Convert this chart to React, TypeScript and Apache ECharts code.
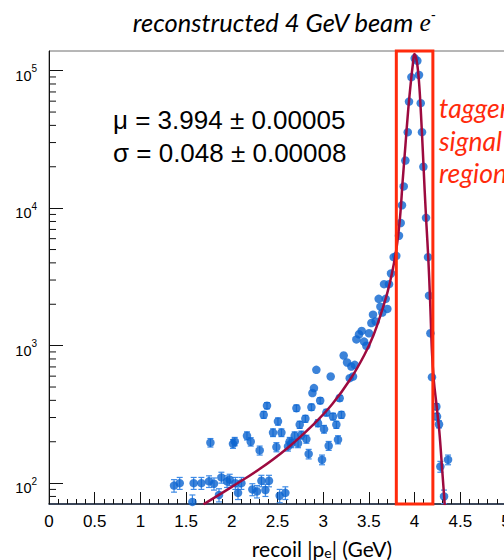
import React, { useEffect, useRef } from 'react';
import * as echarts from 'echarts';

// ---- axis ranges ----
const X_MIN = 0;
const X_MAX = 5;
const X_STEP = 0.5;
const Y_MIN = 70.5;
const Y_MAX = 139000;

// minor ticks of the log y axis
const yMinorTicks = [
  80, 90,
  200, 300, 400, 500, 600, 700, 800, 900,
  2000, 3000, 4000, 5000, 6000, 7000, 8000, 9000,
  20000, 30000, 40000, 50000, 60000, 70000, 80000, 90000,
];

// ---- histogram points: [recoil p (GeV), counts, error] ----
const points: [number, number, number][] = [
  [1.368, 96, 10], [1.43, 100, 10], [1.569, 73, 9], [1.583, 100, 10], [1.667, 100, 10],
  [1.751, 103, 10], [1.766, 197, 14], [1.805, 99, 10], [1.86, 82, 9], [1.886, 110, 10],
  [1.948, 103, 10], [1.977, 106, 10], [2.013, 193, 14], [2.032, 201, 14], [2.039, 100, 10],
  [2.068, 85, 9], [2.105, 100, 10], [2.166, 221, 15], [2.207, 200, 14], [2.225, 90, 9],
  [2.276, 87, 9], [2.305, 173, 13], [2.324, 104, 10], [2.349, 314, 18], [2.368, 89, 9],
  [2.385, 366, 19], [2.407, 104, 10], [2.451, 233, 15], [2.488, 183, 14], [2.505, 281, 17],
  [2.524, 81, 9], [2.543, 233, 15], [2.586, 85, 9], [2.615, 185, 14], [2.634, 201, 14],
  [2.652, 195, 14], [2.688, 221, 15], [2.707, 351, 19], [2.725, 195, 14], [2.743, 266, 16],
  [2.761, 224, 15], [2.805, 294, 17], [2.816, 209, 14], [2.841, 163, 13], [2.871, 357, 19],
  [2.882, 452, 0], [2.899, 491, 0], [2.925, 667, 0], [2.943, 273, 16], [2.967, 398, 20],
  [2.987, 148, 12], [3.009, 247, 16], [3.035, 326, 18], [3.06, 187, 14], [3.082, 596, 0],
  [3.107, 305, 17], [3.144, 266, 16], [3.162, 207, 14], [3.18, 415, 20], [3.199, 314, 18],
  [3.224, 847, 0], [3.261, 754, 0], [3.29, 580, 0], [3.308, 705, 0], [3.326, 596, 0],
  [3.345, 725, 0], [3.363, 1110, 0], [3.392, 1210, 0], [3.421, 1280, 0], [3.447, 1070, 0],
  [3.472, 998, 0], [3.501, 1230, 0], [3.527, 1460, 0], [3.545, 1680, 0], [3.574, 1500, 0],
  [3.607, 2190, 0], [3.626, 1920, 0], [3.647, 1740, 0], [3.666, 2800, 0], [3.684, 2190, 0],
  [3.702, 1850, 0], [3.72, 2800, 0], [3.742, 3350, 0], [3.771, 4400, 0], [3.8, 4500, 0],
  [3.829, 6300, 0], [3.848, 7800, 0], [3.862, 10500, 0], [3.881, 14400, 0], [3.899, 22200, 0],
  [3.925, 35700, 0], [3.939, 59600, 0], [3.965, 89800, 0], [4.001, 123000, 0], [4.03, 118000, 0],
  [4.048, 93000, 0], [4.067, 58000, 0], [4.081, 35700, 0], [4.096, 20000, 0], [4.125, 8500, 0],
  [4.147, 4400, 0], [4.158, 2310, 0], [4.173, 1230, 0], [4.19, 590, 0], [4.238, 360, 19],
  [4.245, 305, 17], [4.267, 268, 16], [4.282, 132, 12], [4.322, 80, 9], [4.366, 148, 12],
];

// ---- fit curve ----
const fitCurve: [number, number][] = [
  [1.69, 70], [2.0, 94], [2.3, 126], [2.6, 178], [2.9, 270], [3.1, 376], [3.3, 574],
  [3.45, 855], [3.55, 1190], [3.63, 1690], [3.7, 2400], [3.75, 3300], [3.8, 5000],
  [3.84, 8500], [3.87, 16000], [3.9, 28800], [3.93, 51800], [3.96, 84000], [3.98, 110000],
  [3.997, 132000], [4.01, 128000], [4.03, 110000], [4.05, 80000], [4.07, 48000],
  [4.09, 26000], [4.11, 13500], [4.13, 7500], [4.15, 4300], [4.17, 2100], [4.19, 900],
  [4.21, 560], [4.24, 370], [4.27, 240], [4.3, 130], [4.33, 69],
];

// tagger signal region [from, to] in GeV
const signalRegion: [number, number] = [3.8, 4.2];

const titleMain = 'reconstructed 4 GeV beam ';
const statsLines = ['μ = 3.994 ± 0.00005', 'σ = 0.048 ± 0.00008'];
const taggerLines = ['tagger', 'signal', 'region'];

const BLUE = '#0b64cf';
const ERR_BLUE = '#3f8be6';
const FIT = '#9d0a3f';
const RED = '#ff2a0c';

export default function App() {
  const ref = useRef<HTMLDivElement>(null);

  useEffect(() => {
    if (!ref.current) return;
    const chart = echarts.init(ref.current, undefined, { renderer: 'svg' });

    const option: any = {
      animation: false,
      grid: {
        left: 49, right: -2, top: 51, bottom: 56,
        show: true, borderColor: '#6e6e6e', borderWidth: 1,
        containLabel: false, outerBoundsMode: 'none',
      },
      xAxis: {
        type: 'value', min: X_MIN, max: X_MAX, interval: X_STEP,
        axisLine: { show: true, onZero: false, lineStyle: { color: '#14233d', width: 1.5 } },
        axisTick: { show: true, inside: true, length: 12, lineStyle: { color: '#111', width: 1 } },
        minorTick: { show: true, splitNumber: 5, length: 5, lineStyle: { color: '#111', width: 1 } },
        splitLine: { show: false },
        minorSplitLine: { show: false },
        axisLabel: {
          fontSize: 17, color: '#000', margin: 9, fontFamily: 'Liberation Sans',
          showMaxLabel: true, showMinLabel: true,
        },
      },
      yAxis: {
        type: 'log', logBase: 10, min: Y_MIN, max: Y_MAX,
        axisLine: { show: true, lineStyle: { color: '#111', width: 1 } },
        axisTick: { show: true, inside: true, length: 14, lineStyle: { color: '#111' } },
        splitLine: { show: false },
        axisLabel: {
          margin: 12,
          showMinLabel: false, showMaxLabel: false,
          formatter: (v: number) => {
            const l = Math.log10(v);
            const n = Math.round(l);
            if (Math.abs(l - n) > 1e-6) return '';
            return `{b|10}{s|${n}}`;
          },
          rich: {
            b: { fontSize: 14.5, lineHeight: 14, fontFamily: 'Liberation Sans', color: '#000', padding: [10, 0, 0, 0] },
            s: { fontSize: 10, lineHeight: 10, fontFamily: 'Liberation Sans', color: '#000', padding: [0, 0, 4, 0] },
          },
        },
      },
      series: [
        {
          // minor ticks of the y axis
          type: 'custom',
          data: yMinorTicks.map((v) => [X_MIN, v]),
          encode: { x: 0, y: 1 },
          silent: true,
          z: 5,
          renderItem: (_p: any, api: any) => {
            const c = api.coord([api.value(0), api.value(1)]);
            return {
              type: 'line',
              shape: { x1: c[0], y1: c[1], x2: c[0] + 7, y2: c[1] },
              style: { stroke: '#111', lineWidth: 1 },
            };
          },
        },
        {
          // error bars
          type: 'custom',
          data: points,
          encode: { x: 0, y: 1 },
          clip: true,
          silent: true,
          z: 2,
          renderItem: (_p: any, api: any) => {
            const x = api.value(0);
            const y = api.value(1);
            const e = api.value(2);
            if (!e) return { type: 'group', children: [] };
            const t = api.coord([x, y + e]);
            const b = api.coord([x, y - e]);
            const cw = 3;
            const st = { stroke: ERR_BLUE, lineWidth: 1.2 };
            return {
              type: 'group',
              children: [
                { type: 'line', shape: { x1: t[0], y1: t[1], x2: b[0], y2: b[1] }, style: st },
                { type: 'line', shape: { x1: t[0] - cw, y1: t[1], x2: t[0] + cw, y2: t[1] }, style: st },
                { type: 'line', shape: { x1: b[0] - cw, y1: b[1], x2: b[0] + cw, y2: b[1] }, style: st },
              ],
            };
          },
        },
        {
          type: 'scatter',
          data: points.map((p) => [p[0], p[1]]),
          symbol: 'circle',
          symbolSize: 8.5,
          itemStyle: { color: BLUE },
          silent: true,
          z: 3,
        },
        {
          type: 'line',
          data: fitCurve,
          smooth: 0.4,
          showSymbol: false,
          symbol: 'none',
          clip: true,
          lineStyle: { color: FIT, width: 2.5 },
          silent: true,
          z: 4,
        },
        {
          // tagger signal region box
          type: 'custom',
          data: [[signalRegion[0], signalRegion[1], Y_MAX]],
          encode: { x: [0, 1], y: 2 },
          silent: true,
          clip: false,
          z: 6,
          renderItem: (params: any, api: any) => {
            const a = api.coord([api.value(0), Y_MAX]);
            const b = api.coord([api.value(1), Y_MAX]);
            const cs = params.coordSys;
            return {
              type: 'rect',
              shape: { x: a[0], y: cs.y, width: b[0] - a[0], height: cs.height },
              style: { fill: 'none', stroke: RED, lineWidth: 3 },
            };
          },
        },
      ],
      graphic: [
        {
          type: 'text',
          x: 284, y: 22,
          style: {
            text: `{t|${titleMain}}{e|e}{m|-}`,
            align: 'center', verticalAlign: 'middle',
            rich: {
              t: { fontFamily: 'Lato', fontStyle: 'italic', fontSize: 25.5, fill: '#000', lineHeight: 28 },
              e: { fontFamily: 'Liberation Serif', fontStyle: 'italic', fontSize: 25.5, fill: '#000', lineHeight: 28 },
              m: { fontFamily: 'Liberation Sans', fontSize: 14, fill: '#000', lineHeight: 14, padding: [0, 0, 15, 0] },
            },
          },
        },
        {
          type: 'text',
          x: 113, y: 103.5,
          style: {
            text: statsLines.join('\n'),
            fontFamily: 'Liberation Sans', fontSize: 26, lineHeight: 33,
            fill: '#000', align: 'left', verticalAlign: 'top',
          },
        },
        {
          type: 'text',
          x: 439, y: 92,
          style: {
            text: taggerLines.join('\n'),
            fontFamily: 'Lato', fontStyle: 'italic', fontSize: 26.5, lineHeight: 32.5,
            fill: RED, align: 'left', verticalAlign: 'top',
          },
        },
        {
          type: 'text',
          x: 322, y: 548,
          style: {
            text: '{a|recoil |p}{e|e}{a|| (GeV)}',
            align: 'center', verticalAlign: 'middle',
            rich: {
              a: { fontFamily: 'Lato', fontSize: 21, fill: '#000', lineHeight: 23 },
              e: { fontFamily: 'Lato', fontSize: 14, fill: '#000', lineHeight: 14, padding: [8, 0, 0, 0] },
            },
          },
        },
      ],
    };

    chart.setOption(option);
    return () => chart.dispose();
  }, []);

  return (
    <div
      ref={ref}
      style={{ position: 'fixed', left: 0, top: 0, width: 504, height: 560, background: '#fff' }}
    />
  );
}
